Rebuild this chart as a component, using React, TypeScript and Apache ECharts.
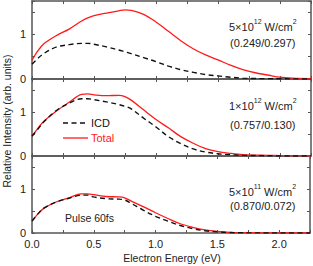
import React, { useEffect, useRef } from "react";
import * as echarts from "echarts";

const energy = [0, 0.05, 0.1, 0.2, 0.3, 0.4, 0.45, 0.5, 0.6, 0.7, 0.75, 0.8, 0.9, 1.0, 1.1, 1.2, 1.3, 1.4, 1.5, 1.6, 1.7, 1.8, 1.9, 2.0, 2.1, 2.25];

const totalHigh = [0.42, 0.64, 0.8, 0.98, 1.12, 1.3, 1.37, 1.42, 1.48, 1.53, 1.55, 1.54, 1.45, 1.28, 1.07, 0.86, 0.68, 0.54, 0.43, 0.31, 0.21, 0.14, 0.09, 0.04, 0.02, 0.01];
const icdHigh = [0.33, 0.47, 0.58, 0.72, 0.77, 0.8, 0.8, 0.78, 0.72, 0.65, 0.61, 0.57, 0.48, 0.39, 0.29, 0.21, 0.15, 0.1, 0.07, 0.04, 0.02, 0.01, 0.008, 0.005, 0.003, 0];
const totalMid = [0.45, 0.64, 0.8, 1.03, 1.22, 1.4, 1.41, 1.39, 1.37, 1.38, 1.35, 1.27, 1.05, 0.83, 0.64, 0.44, 0.29, 0.17, 0.1, 0.06, 0.03, 0.02, 0.015, 0.01, 0.005, 0];
const icdMid = [0.45, 0.62, 0.79, 1.04, 1.2, 1.3, 1.3, 1.28, 1.23, 1.17, 1.13, 1.07, 0.86, 0.66, 0.44, 0.28, 0.16, 0.09, 0.05, 0.03, 0.015, 0.01, 0.005, 0, 0, 0];
const totalLow = [0.27, 0.44, 0.57, 0.71, 0.8, 0.89, 0.89, 0.87, 0.83, 0.82, 0.8, 0.73, 0.6, 0.46, 0.33, 0.21, 0.13, 0.07, 0.035, 0.015, 0.008, 0.005, 0.002, 0, 0, 0];
const icdLow = [0.27, 0.44, 0.57, 0.71, 0.79, 0.86, 0.86, 0.82, 0.78, 0.77, 0.75, 0.68, 0.52, 0.38, 0.27, 0.17, 0.1, 0.05, 0.025, 0.01, 0.005, 0.003, 0.001, 0, 0, 0];

const intensityLabels = [
  ["5", "12"],
  ["1", "12"],
  ["5", "11"],
];
const ratioLabels = ["(0.249/0.297)", "(0.757/0.130)", "(0.870/0.072)"];
const legendNames = ["ICD", "Total"];
const pulseLabel = "Pulse 60fs";
const xName = "Electron Energy (eV)";
const yName = "Relative Intensity (arb. units)";

const FONT = "'Liberation Sans', Arial, sans-serif";
const AXIS_COLOR = "#555";
const TEXT_COLOR = "#222";
const RED = "#ff1a1a";
const BLACK = "#111";

export default function App() {
  const ref = useRef<HTMLDivElement>(null);
  useEffect(() => {
    if (!ref.current) return;
    const chart = echarts.init(ref.current, null, { renderer: "svg" });

    const gridTops = [1, 79, 156];
    const gridH = [78, 77, 77];
    const grids = gridTops.map((t, i) => ({ left: 32, right: 2, top: t, height: gridH[i] }));

    const xAxes: any[] = [];
    const yAxes: any[] = [];
    for (let g = 0; g < 3; g++) {
      const base = {
        gridIndex: g,
        type: "value",
        min: 0,
        max: 2.25,
        interval: 0.25,
        splitLine: { show: false },
        axisLine: { show: true, onZero: false, lineStyle: { color: AXIS_COLOR, width: 1.5 } },
        axisTick: { show: true, inside: true, length: 3, lineStyle: { color: AXIS_COLOR, width: 1 } },
      };
      xAxes.push({
        ...base,
        position: "bottom",
        axisLabel: {
          show: g === 2,
          fontFamily: FONT,
          fontSize: 11,
          color: TEXT_COLOR,
          margin: 5,
          formatter: (v: number) => (Math.abs(v / 0.5 - Math.round(v / 0.5)) < 1e-6 ? v.toFixed(1) : ""),
        },
      });
      xAxes.push({ ...base, position: "top", axisLabel: { show: false } });
      const ybase = {
        gridIndex: g,
        type: "value",
        min: 0,
        max: 1.75,
        interval: 0.5,
        splitLine: { show: false },
        axisLine: { show: true, onZero: false, lineStyle: { color: AXIS_COLOR, width: 1.5 } },
        axisTick: { show: true, inside: true, length: 3, lineStyle: { color: AXIS_COLOR, width: 1 } },
      };
      yAxes.push({
        ...ybase,
        position: "left",
        axisLabel: {
          fontFamily: FONT,
          fontSize: 11,
          color: TEXT_COLOR,
          margin: 6,
          formatter: (v: number) => (Math.abs(v - Math.round(v)) < 1e-6 ? String(v) : ""),
        },
      });
      yAxes.push({ ...ybase, position: "right", axisLabel: { show: false } });
    }

    const panels = [
      [icdHigh, totalHigh],
      [icdMid, totalMid],
      [icdLow, totalLow],
    ];
    const series: any[] = [];
    panels.forEach(([icd, tot], g) => {
      series.push({
        name: legendNames[0],
        type: "line",
        xAxisIndex: g * 2,
        yAxisIndex: g * 2,
        data: energy.map((x, i) => [x, icd[i]]),
        symbol: "none",
        smooth: 0.35,
        lineStyle: { color: BLACK, width: 1.4, type: [5, 3.5] },
        itemStyle: { color: BLACK },
        z: 3,
      });
      series.push({
        name: legendNames[1],
        type: "line",
        xAxisIndex: g * 2,
        yAxisIndex: g * 2,
        data: energy.map((x, i) => [x, tot[i]]),
        symbol: "none",
        smooth: 0.35,
        lineStyle: { color: RED, width: 1.3 },
        itemStyle: { color: RED },
        z: 2,
      });
    });

    const annY = [
      [26, 43],
      [105, 125],
      [191, 206],
    ];
    const graphics: any[] = [];
    intensityLabels.forEach(([m, e], i) => {
      graphics.push({
        type: "text",
        left: 229,
        top: annY[i][0] - 8,
        style: {
          text: `{n|${m}×10}{s|${e}}{n| W/cm}{s|2}`,
          rich: {
            n: { fontFamily: FONT, fontSize: 11, fill: TEXT_COLOR, verticalAlign: "bottom", lineHeight: 14 },
            s: { fontFamily: FONT, fontSize: 7, fill: TEXT_COLOR, verticalAlign: "top", lineHeight: 14, padding: [0, 0, 5, 0] },
          },
        },
      });
      graphics.push({
        type: "text",
        x: 230,
        y: annY[i][1],
        style: {
          text: ratioLabels[i],
          fontFamily: FONT,
          fontSize: 11,
          fill: TEXT_COLOR,
          textVerticalAlign: "middle",
        },
      });
    });
    // legend
    graphics.push({
      type: "line",
      shape: { x1: 63, y1: 123, x2: 88, y2: 123 },
      style: { stroke: BLACK, lineWidth: 1.4, lineDash: [5, 3.5] },
    });
    graphics.push({
      type: "text",
      x: 91,
      y: 123,
      style: { text: legendNames[0], fontFamily: FONT, fontSize: 11, fill: BLACK, textVerticalAlign: "middle" },
    });
    graphics.push({
      type: "line",
      shape: { x1: 63, y1: 138, x2: 88, y2: 138 },
      style: { stroke: RED, lineWidth: 1.3 },
    });
    graphics.push({
      type: "text",
      x: 91,
      y: 138,
      style: { text: legendNames[1], fontFamily: FONT, fontSize: 11, fill: RED, textVerticalAlign: "middle" },
    });
    graphics.push({
      type: "text",
      x: 65,
      y: 218,
      style: { text: pulseLabel, fontFamily: FONT, fontSize: 10.5, fill: TEXT_COLOR, textVerticalAlign: "middle" },
    });
    graphics.push({
      type: "text",
      x: 172,
      y: 258,
      style: { text: xName, fontFamily: FONT, fontSize: 10.5, fill: TEXT_COLOR, textAlign: "center", textVerticalAlign: "middle" },
    });
    graphics.push({
      type: "text",
      x: 7,
      y: 121,
      rotation: Math.PI / 2,
      style: { text: yName, fontFamily: FONT, fontSize: 10.5, fill: TEXT_COLOR, textAlign: "center", textVerticalAlign: "middle" },
    });

    chart.setOption({
      animation: false,
      backgroundColor: "#fff",
      grid: grids,
      xAxis: xAxes,
      yAxis: yAxes,
      series,
      graphic: graphics,
    });
    return () => chart.dispose();
  }, []);
  return <div ref={ref} style={{ position: "fixed", left: 0, top: 0, width: 313, height: 266 }} />;
}
